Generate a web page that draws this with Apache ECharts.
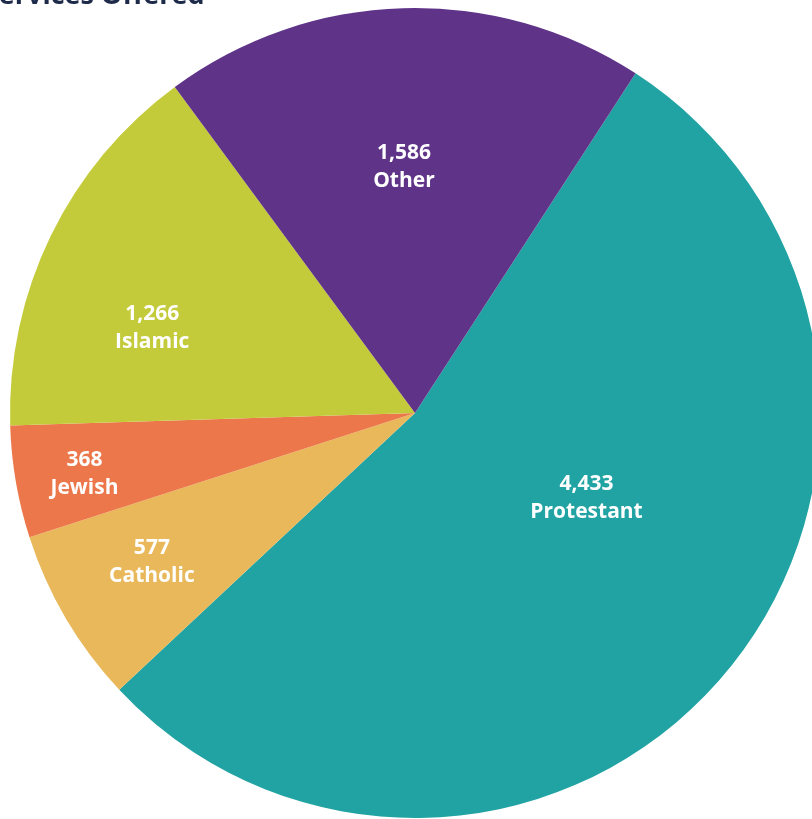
<!DOCTYPE html>
<html>
<head>
<meta charset="utf-8">
<script src="https://cdn.jsdelivr.net/npm/echarts@6/dist/echarts.min.js"></script>
<style>
html,body{margin:0;padding:0;background:#fff;}
#main{width:812px;height:819px;}
</style>
</head>
<body>
<div id="main"></div>
<script>
var categories = ['Protestant', 'Catholic', 'Jewish', 'Islamic', 'Other'];
var values = [4433, 577, 368, 1266, 1586];
var colors = ['#21A3A4', '#E8B85A', '#EC774A', '#C4CB3A', '#5F3388'];
var titleText = 'Services Offered';
// label nudges (px) relative to default inside position
var labelNudge = [[14, -47], [-86, 45], [-128, 26], [-78, 5], [-5, -41]];

var chart = echarts.init(document.getElementById('main'));
var data = categories.map(function (c, i) {
  return { name: c, value: values[i], itemStyle: { color: colors[i] } };
});
chart.setOption({
  animation: false,
  graphic: [{
    type: 'text',
    x: -16,
    y: 10,
    z: 100,
    style: {
      text: titleText,
      fill: '#1E2A4A',
      fontSize: 27,
      fontWeight: 'bold',
      fontFamily: 'Open Sans',
      verticalAlign: 'bottom'
    }
  }],
  series: [{
    type: 'pie',
    center: [415, 413],
    radius: [0, 405],
    startAngle: 57.0,
    clockwise: true,
    data: data,
    itemStyle: { borderWidth: 0 },
    label: {
      position: 'inside',
      color: '#ffffff',
      fontFamily: 'Open Sans',
      fontWeight: 'bold',
      fontSize: 21,
      lineHeight: 28,
      align: 'center',
      formatter: function (p) {
        return echarts.format.addCommas(p.value) + '\n' + p.name;
      }
    },
    labelLayout: function (p) {
      var n = labelNudge[p.dataIndex];
      return { dx: n[0], dy: n[1] };
    },
    emphasis: { disabled: true }
  }]
});
</script>
</body>
</html>
